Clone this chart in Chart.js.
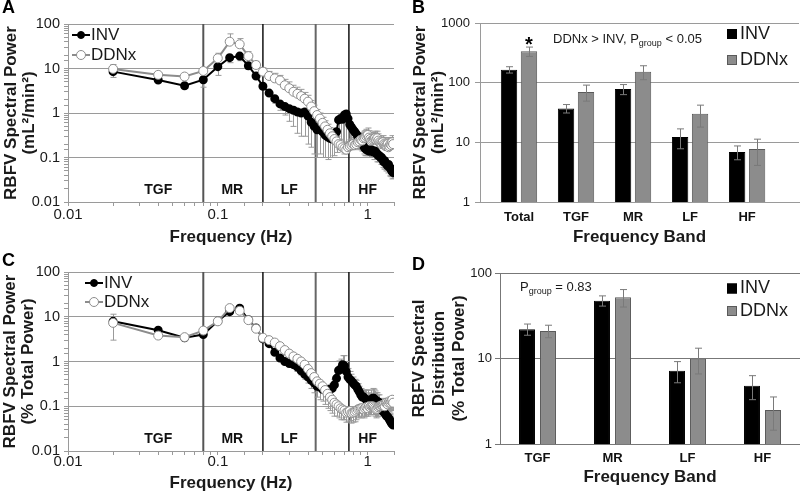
<!DOCTYPE html>
<html>
<head>
<meta charset="utf-8">
<title>RBFV spectral power</title>
<script src="https://cdn.jsdelivr.net/npm/chart.js@4.4.1/dist/chart.umd.min.js"></script>
<style>
  html, body { margin: 0; padding: 0; background: #fff; }
  #wrap { position: relative; width: 800px; height: 492px; overflow: hidden; }
  canvas { position: absolute; }
</style>
</head>
<body>
<div id="wrap">
  <canvas id="chartA" width="400" height="246" style="left:0;top:0"></canvas>
  <canvas id="chartB" width="400" height="246" style="left:400px;top:0"></canvas>
  <canvas id="chartC" width="400" height="246" style="left:0;top:246px"></canvas>
  <canvas id="chartD" width="400" height="246" style="left:400px;top:246px"></canvas>
</div>
<script>
// frequencias (Hz) de los espectros A y C
const freqs = [
  0.02, 0.04, 0.06, 0.08, 0.10, 0.12, 0.14, 0.16, 0.18, 0.20,
  0.22, 0.24, 0.26, 0.28, 0.30, 0.32, 0.34, 0.36, 0.38, 0.40,
  0.42, 0.44, 0.46, 0.48, 0.50, 0.52, 0.54, 0.56, 0.58, 0.60,
  0.62, 0.64, 0.66, 0.68, 0.70, 0.72, 0.74, 0.76, 0.78, 0.80,
  0.82, 0.84, 0.86, 0.88, 0.90, 0.92, 0.94, 0.96, 0.98, 1.00,
  1.02, 1.04, 1.06, 1.08, 1.10, 1.12, 1.14, 1.16, 1.18, 1.20,
  1.22, 1.24, 1.26, 1.28, 1.30, 1.32, 1.34, 1.36, 1.38, 1.40,
  1.42, 1.44, 1.46, 1.48
];

// A: potencia (mL2/min2)
const invPowerA = [
  8.5, 5.5, 4.1, 5.6, 11, 17.5, 19, 11.5, 6.8, 4.0,
  2.8, 2.1, 1.6, 1.4, 1.25, 1.15, 1.05, 1.0, 1.05, 0.85,
  0.62, 0.5, 0.42, 0.48, 0.38, 0.32, 0.29, 0.27, 0.26, 0.28,
  0.38, 0.7, 0.75, 0.72, 0.9, 0.95, 0.75, 0.55, 0.48, 0.42,
  0.38, 0.34, 0.3, 0.27, 0.25, 0.22, 0.18, 0.16, 0.15, 0.15,
  0.14, 0.14, 0.15, 0.14, 0.13, 0.14, 0.13, 0.12, 0.11, 0.11,
  0.1, 0.1, 0.09, 0.08, 0.085, 0.075, 0.07, 0.065, 0.07, 0.06,
  0.058, 0.052, 0.048, 0.046
];
const invErrA = [
  2.2, 0.6, 0.5, 1.8, 4, 4, 4, 2, 1, 0.5,
  0.4, 0.45, 0.45, 0.5, 0.6, 0.65, 0.7, 0.7, 0.75, 0.65,
  0.45, 0.38, 0.32, 0.36, 0.28, 0.22, 0.2, 0.17, 0.16, 0.17,
  0.25, 0.55, 0.6, 0.55, 0.78, 0.8, 0.6, 0.4, 0.33, 0.27,
  0.22, 0.18, 0.14, 0.12, 0.1, 0.08, 0.06, 0.05, 0.04, 0.04,
  0.04, 0.04, 0.05, 0.04, 0.04, 0.05, 0.04, 0.04, 0.03, 0.03,
  0.03, 0.03, 0.03, 0.025, 0.03, 0.025, 0.02, 0.02, 0.02, 0.02,
  0.02, 0.015, 0.015, 0.012
];
const ddnxPowerA = [
  9.8, 7.2, 6.6, 8.8, 17, 40, 35, 19, 12, 8.5,
  6.8, 6.0, 5.4, 4.2, 3.6, 3.0, 2.7, 2.4, 2.1, 1.8,
  1.4, 1.1, 0.9, 0.75, 0.6, 0.5, 0.42, 0.35, 0.3, 0.26,
  0.23, 0.2, 0.19, 0.17, 0.16, 0.15, 0.17, 0.18, 0.19, 0.2,
  0.19, 0.2, 0.22, 0.23, 0.25, 0.24, 0.27, 0.28, 0.3, 0.32,
  0.28, 0.26, 0.24, 0.25, 0.26, 0.27, 0.25, 0.27, 0.24, 0.22,
  0.21, 0.2, 0.22, 0.2, 0.19, 0.18, 0.18, 0.2, 0.17, 0.18,
  0.2, 0.19, 0.22, 0.2
];
const ddnxErrA = [
  2.5, 0.6, 0.6, 1, 5, 20, 12, 5, 2.5, 1.8,
  1.8, 1.8, 1.6, 1.5, 1.4, 1.2, 1.1, 1.0, 0.8, 0.7,
  0.5, 0.4, 0.3, 0.25, 0.2, 0.17, 0.14, 0.12, 0.1, 0.08,
  0.07, 0.06, 0.06, 0.05, 0.05, 0.05, 0.06, 0.07, 0.07, 0.08,
  0.07, 0.08, 0.09, 0.1, 0.11, 0.1, 0.12, 0.12, 0.13, 0.14,
  0.12, 0.11, 0.1, 0.11, 0.11, 0.12, 0.1, 0.12, 0.1, 0.09,
  0.08, 0.08, 0.09, 0.08, 0.08, 0.07, 0.07, 0.08, 0.07, 0.07,
  0.08, 0.07, 0.09, 0.08
];

// C: % de la potencia total
const invPctC = [
  7.9, 5.0, 3.4, 4.0, 8.0, 13, 15.5, 8.6, 5.6, 3.2,
  2.5, 1.6, 1.2, 1.0, 0.9, 0.85, 0.75, 0.62, 0.52, 0.45,
  0.38, 0.33, 0.28, 0.27, 0.24, 0.23, 0.23, 0.24, 0.25, 0.3,
  0.42, 0.63, 0.68, 0.85, 0.8, 0.6, 0.45, 0.4, 0.37, 0.33,
  0.3, 0.28, 0.24, 0.21, 0.18, 0.16, 0.16, 0.15, 0.14, 0.13,
  0.12, 0.12, 0.14, 0.15, 0.15, 0.14, 0.13, 0.13, 0.12, 0.12,
  0.1, 0.09, 0.08, 0.075, 0.07, 0.065, 0.06, 0.058, 0.055, 0.05,
  0.046, 0.042, 0.04, 0.038
];
const invErrC = [
  3.5, 0.7, 0.5, 0.8, 1.2, 2, 2, 1, 0.6, 0.3,
  0.25, 0.2, 0.15, 0.15, 0.15, 0.15, 0.15, 0.12, 0.1, 0.1,
  0.08, 0.07, 0.06, 0.06, 0.05, 0.05, 0.05, 0.06, 0.07, 0.1,
  0.2, 0.4, 0.45, 0.5, 0.55, 0.4, 0.25, 0.2, 0.15, 0.12,
  0.1, 0.1, 0.08, 0.07, 0.07, 0.06, 0.07, 0.08, 0.09, 0.1,
  0.08, 0.07, 0.09, 0.1, 0.09, 0.08, 0.07, 0.07, 0.06, 0.06,
  0.05, 0.04, 0.04, 0.035, 0.03, 0.03, 0.025, 0.025, 0.02, 0.02,
  0.02, 0.018, 0.016, 0.015
];
const ddnxPctC = [
  7.3, 3.8, 3.5, 4.9, 7.9, 15.6, 13.6, 8.4, 5.4, 3.4,
  3.0, 2.65, 2.2, 1.8, 1.5, 1.3, 1.15, 1.0, 0.85, 0.68,
  0.55, 0.45, 0.36, 0.32, 0.28, 0.23, 0.19, 0.16, 0.14, 0.12,
  0.11, 0.1, 0.09, 0.085, 0.08, 0.072, 0.075, 0.078, 0.07, 0.072,
  0.075, 0.08, 0.085, 0.088, 0.09, 0.09, 0.085, 0.09, 0.095, 0.09,
  0.1, 0.095, 0.1, 0.1, 0.095, 0.09, 0.085, 0.088, 0.095, 0.1,
  0.1, 0.105, 0.105, 0.11, 0.1, 0.12, 0.12, 0.11, 0.12, 0.13,
  0.12, 0.13, 0.14, 0.12
];
const ddnxErrC = [
  4.3, 0.4, 0.4, 0.6, 1, 2, 2, 1, 0.5, 0.3,
  0.3, 0.3, 0.4, 0.4, 0.45, 0.5, 0.55, 0.5, 0.45, 0.35,
  0.3, 0.25, 0.2, 0.18, 0.15, 0.12, 0.1, 0.08, 0.07, 0.06,
  0.05, 0.045, 0.04, 0.035, 0.03, 0.028, 0.03, 0.03, 0.028, 0.028,
  0.03, 0.03, 0.03, 0.03, 0.035, 0.03, 0.03, 0.03, 0.035, 0.03,
  0.035, 0.03, 0.035, 0.035, 0.03, 0.03, 0.03, 0.03, 0.035, 0.035,
  0.035, 0.04, 0.035, 0.04, 0.035, 0.04, 0.04, 0.035, 0.04, 0.045,
  0.04, 0.045, 0.05, 0.04
];

// bandas de frecuencia
const bandEdges = [0.08, 0.2, 0.45, 0.75];
const bandNames = ["TGF", "MR", "LF", "HF"];
const bandLabelAt = [0.04, 0.125, 0.3, 1.0];
const bandLabelLevel = 0.018;

// B: potencia por banda
const bandsB = ["Total", "TGF", "MR", "LF", "HF"];
const invPowerB = [165, 37, 78, 12.3, 6.9];
const invErrB = [20, 6, 15, 4.5, 1.8];
const ddnxPowerB = [335, 70, 152, 30, 7.7];
const ddnxErrB = [60, 21, 40, 12, 3.6];
const sigB = ["*", "", "", "", ""];

// D: distribucion (% potencia total)
const bandsD = ["TGF", "MR", "LF", "HF"];
const invPctD = [22, 47.5, 7.2, 4.8];
const invErrD = [3.3, 6.5, 2, 1.5];
const ddnxPctD = [21, 52, 9.9, 2.5];
const ddnxErrD = [3.5, 12, 3.3, 1.05];

const FONT = '"Liberation Sans", Arial, sans-serif';
Chart.defaults.font.family = FONT;
Chart.defaults.color = "#1a1a1a";
Chart.defaults.animation = false;
Chart.defaults.events = [];
Chart.defaults.plugins.legend.display = false;
Chart.defaults.plugins.tooltip.enabled = false;

const GRID = "#9a9a9a";

function esDecada(v) {
    const l = Math.log10(v);
    return Math.abs(l - Math.round(l)) < 1e-6;
}
function etiquetaLog(v) {
    return esDecada(v) ? String(Number(v.toPrecision(3))) : "";
}
function puntos(vals) {
    return freqs.map((f, i) => ({ x: f, y: vals[i] }));
}

// Barras de error
function dibujarErrores(chart, o) {
    const ctx = chart.ctx, ys = chart.scales.y, a = chart.chartArea;
    ctx.save();
    ctx.beginPath();
    ctx.rect(a.left, a.top - 1, a.right - a.left, a.bottom - a.top + 1);
    ctx.clip();
    ctx.strokeStyle = o.color;
    ctx.lineWidth = 1;
    o.sets.forEach((set, di) => {
        const meta = chart.getDatasetMeta(di);
        const raw = chart.data.datasets[di].data;
        meta.data.forEach((el, i) => {
            const v = typeof raw[i] === "object" ? raw[i].y : raw[i];
            const e = set.err[i];
            if (!e) return;
            const x = Math.round(el.x) + 0.5;
            const top = ys.getPixelForValue(set.dir < 0 ? v : v + e);
            const bot = ys.getPixelForValue(set.dir > 0 ? v : Math.max(v - e, 1e-9));
            ctx.beginPath();
            ctx.moveTo(x, top);
            ctx.lineTo(x, bot);
            if (set.dir >= 0) { ctx.moveTo(x - o.cap, top); ctx.lineTo(x + o.cap, top); }
            if (set.dir <= 0) { ctx.moveTo(x - o.cap, bot); ctx.lineTo(x + o.cap, bot); }
            ctx.stroke();
        });
    });
    ctx.restore();
}

const errorBars = {
    id: "errorBars",
    beforeDatasetsDraw(chart, args, o) { if (o.under) dibujarErrores(chart, o); },
    afterDatasetsDraw(chart, args, o) { if (!o.under) dibujarErrores(chart, o); }
};

// Leyenda dentro del grafico
const insideLegend = {
    id: "insideLegend",
    afterDraw(chart, args, o) {
        const ctx = chart.ctx;
        ctx.save();
        chart.data.datasets.forEach((ds, i) => {
            const y = o.y[i];
            if (o.kind === "line") {
                ctx.strokeStyle = ds.borderColor;
                ctx.lineWidth = ds.borderWidth;
                ctx.beginPath();
                ctx.moveTo(o.x, y);
                ctx.lineTo(o.x + o.w, y);
                ctx.stroke();
                ctx.beginPath();
                ctx.arc(o.x + o.w / 2, y, ds.pointRadius, 0, Math.PI * 2);
                ctx.fillStyle = ds.pointBackgroundColor;
                ctx.fill();
                ctx.lineWidth = 1;
                ctx.strokeStyle = ds.pointBorderColor;
                ctx.stroke();
            } else {
                ctx.fillStyle = ds.backgroundColor;
                ctx.fillRect(o.x, y - o.w / 2, o.w, o.w);
                ctx.strokeStyle = ds.borderColor;
                ctx.lineWidth = 1;
                ctx.strokeRect(o.x + 0.5, y - o.w / 2 + 0.5, o.w - 1, o.w - 1);
            }
            ctx.fillStyle = "#1a1a1a";
            ctx.font = o.size + "px " + FONT;
            ctx.textAlign = "left";
            ctx.textBaseline = "middle";
            ctx.fillText(ds.label, o.x + o.w + o.gap, y);
        });
        ctx.restore();
    }
};

// Lineas y nombres de las bandas
const bandLines = {
    id: "bandLines",
    beforeDatasetsDraw(chart, args, o) {
        const ctx = chart.ctx, xs = chart.scales.x, ys = chart.scales.y, a = chart.chartArea;
        ctx.save();
        bandEdges.forEach((f, i) => {
            const x = xs.getPixelForValue(f);
            ctx.strokeStyle = o.colors[i];
            ctx.lineWidth = o.widths[i];
            ctx.beginPath();
            ctx.moveTo(x, a.top);
            ctx.lineTo(x, a.bottom);
            ctx.stroke();
        });
        ctx.fillStyle = "#111";
        ctx.font = "bold 14px " + FONT;
        ctx.textAlign = "center";
        ctx.textBaseline = "middle";
        bandNames.forEach((n, i) => {
            ctx.fillText(n, xs.getPixelForValue(bandLabelAt[i]), ys.getPixelForValue(bandLabelLevel));
        });
        ctx.restore();
    }
};

// Letra del panel, texto de estadistica y asterisco
const notes = {
    id: "notes",
    afterDraw(chart, args, o) {
        const ctx = chart.ctx;
        ctx.save();
        ctx.textAlign = "left";
        ctx.textBaseline = "alphabetic";
        ctx.fillStyle = "#000";
        ctx.font = "bold 18px " + FONT;
        ctx.fillText(o.letter, o.letterX, o.letterY);
        if (o.text) {
            let x = o.text.x;
            o.text.parts.forEach(p => {
                ctx.font = (p.sub ? 9 : 13) + "px " + FONT;
                ctx.fillStyle = "#1a1a1a";
                ctx.fillText(p.t, x, o.text.y + (p.sub ? 3 : 0));
                x += ctx.measureText(p.t).width;
            });
        }
        if (o.star) {
            const meta = chart.getDatasetMeta(o.star.dataset);
            const raw = chart.data.datasets[o.star.dataset].data;
            ctx.font = "bold 20px " + FONT;
            ctx.textAlign = "center";
            ctx.fillStyle = "#000";
            o.star.marks.forEach((m, i) => {
                if (!m) return;
                const v = typeof raw[i] === "object" ? raw[i].y : raw[i];
                const top = chart.scales.y.getPixelForValue(v + o.star.err[i]);
                ctx.fillText(m, meta.data[i].x, top + 4);
            });
        }
        ctx.restore();
    }
};

function graficoEspectro(id, inv, invErr, ddnx, ddnxErr, o) {
    return new Chart(document.getElementById(id), {
        type: "line",
        data: {
            datasets: [
                { label: "INV", data: puntos(inv), borderColor: "#000", borderWidth: 2, pointRadius: 3.5,
                  pointBackgroundColor: "#000", pointBorderColor: "#000", tension: 0, order: 1 },
                { label: "DDNx", data: puntos(ddnx), borderColor: "#8c8c8c", borderWidth: 2, pointRadius: 4.5,
                  pointBackgroundColor: "#fff", pointBorderColor: "#8c8c8c", pointBorderWidth: 1, tension: 0, order: 0 }
            ]
        },
        options: {
            responsive: false,
            layout: { padding: { top: o.top, right: o.right, left: 0, bottom: 0 } },
            scales: {
                x: {
                    type: "logarithmic", min: 0.01, max: 1.5,
                    afterFit: s => { s.height = o.xHeight; },
                    grid: { drawOnChartArea: false, color: GRID, tickLength: 4 },
                    border: { color: GRID },
                    ticks: { autoSkip: false, maxRotation: 0, callback: etiquetaLog, font: { size: 15 }, padding: o.xPad },
                    title: { display: true, text: "Frequency (Hz)", font: { size: 17, weight: "bold", lineHeight: 1 }, padding: { top: 0, bottom: 0 } }
                },
                y: {
                    type: "logarithmic", min: 0.01, max: 100,
                    afterFit: s => { s.width = 68; },
                    grid: {
                        color: c => (c.tick && esDecada(c.tick.value)) ? GRID : "rgba(0,0,0,0)",
                        tickColor: GRID, tickLength: 4
                    },
                    border: { color: GRID },
                    ticks: { autoSkip: false, callback: etiquetaLog, font: { size: 14.5 }, padding: 4 },
                    title: { display: true, text: o.yTitle, font: { size: 17, weight: "bold", lineHeight: 1.09 }, padding: { top: o.yTitlePad, bottom: 0 } }
                }
            },
            plugins: {
                errorBars: { under: true, color: "#9a9a9a", cap: 3,
                             sets: [{ err: invErr, dir: o.invDir }, { err: ddnxErr, dir: o.ddnxDir }] },
                insideLegend: { kind: "line", x: o.legX, y: o.legY, w: 18, gap: 1, size: 17 },
                bandLines: { colors: ["#555", "#111", "#666", "#111"], widths: [2, 1.5, 2, 1.5] },
                notes: { letter: o.letter, letterX: 2, letterY: o.letterY }
            }
        },
        plugins: [bandLines, errorBars, insideLegend, notes]
    });
}

graficoEspectro("chartA", invPowerA, invErrA, ddnxPowerA, ddnxErrA, {
    top: 24, right: 3, xHeight: 44, xPad: 0, invDir: -1, ddnxDir: 1,
    yTitle: ["RBFV Spectral Power", "(mL\u00b2/min\u00b2)"], yTitlePad: 2,
    legX: 72, legY: [35, 55], letter: "A", letterY: 13
});

graficoEspectro("chartC", invPctC, invErrC, ddnxPctC, ddnxErrC, {
    top: 26, right: 5, xHeight: 41, xPad: -2, invDir: 1, ddnxDir: -1,
    yTitle: ["RBFV Spectral Power", "(% Total Power)"], yTitlePad: 1,
    legX: 85, legY: [37, 56], letter: "C", letterY: 20
});

// B: barras con eje lineal para centrar las bandas
new Chart(document.getElementById("chartB"), {
    type: "bar",
    data: {
        datasets: [
            { label: "INV", data: bandsB.map((b, i) => ({ x: i, y: invPowerB[i] })),
              backgroundColor: "#000", borderColor: "#000", borderWidth: 1 },
            { label: "DDNx", data: bandsB.map((b, i) => ({ x: i, y: ddnxPowerB[i] })),
              backgroundColor: "#8c8c8c", borderColor: "#5a5a5a", borderWidth: 1 }
        ]
    },
    options: {
        responsive: false,
        datasets: { bar: { categoryPercentage: 0.7, barPercentage: 0.82 } },
        layout: { padding: { top: 23, right: 1, left: 0, bottom: 0 } },
        scales: {
            x: {
                type: "linear", min: -0.684, max: 4.91, offset: false,
                afterBuildTicks: s => { s.ticks = bandsB.map((b, i) => ({ value: i })); },
                afterFit: s => { s.height = 44; },
                grid: { display: false, drawTicks: false },
                border: { color: GRID },
                ticks: { autoSkip: false, maxRotation: 0, callback: v => bandsB[v] ?? "",
                         font: { size: 13, weight: "bold" }, padding: 7.5, color: "#111" },
                title: { display: true, text: "Frequency Band", font: { size: 17, weight: "bold", lineHeight: 1 }, padding: { top: 0, bottom: 0 } }
            },
            y: {
                type: "logarithmic", min: 1, max: 1000,
                afterBuildTicks: s => { s.ticks = s.ticks.filter(t => esDecada(t.value)); },
                afterFit: s => { s.width = 80; },
                grid: { color: GRID, tickLength: 5 },
                border: { color: GRID },
                ticks: { callback: etiquetaLog, font: { size: 13 }, padding: 5 },
                title: { display: true, text: ["RBFV Spectral Power", "(mL\u00b2/min\u00b2)"],
                         font: { size: 17, weight: "bold", lineHeight: 1.09 }, padding: { top: 11, bottom: 0 } }
            }
        },
        plugins: {
            errorBars: { under: false, color: "#7a7a7a", cap: 3.5,
                         sets: [{ err: invErrB, dir: 0 }, { err: ddnxErrB, dir: 0 }] },
            insideLegend: { kind: "box", x: 327, y: [34, 60], w: 10, gap: 3, size: 18 },
            notes: {
                letter: "B", letterX: 12, letterY: 13,
                text: { x: 153, y: 43, parts: [{ t: "DDNx > INV, P" }, { t: "group", sub: true }, { t: " < 0.05" }] },
                star: { dataset: 1, marks: sigB, err: ddnxErrB }
            }
        }
    },
    plugins: [errorBars, insideLegend, notes]
});

// D: distribucion por banda
new Chart(document.getElementById("chartD"), {
    type: "bar",
    data: {
        labels: bandsD,
        datasets: [
            { label: "INV", data: invPctD, backgroundColor: "#000", borderColor: "#000", borderWidth: 1 },
            { label: "DDNx", data: ddnxPctD, backgroundColor: "#8c8c8c", borderColor: "#5a5a5a", borderWidth: 1 }
        ]
    },
    options: {
        responsive: false,
        datasets: { bar: { categoryPercentage: 0.56, barPercentage: 0.76 } },
        layout: { padding: { top: 27, right: 0, left: 0, bottom: 0 } },
        scales: {
            x: {
                afterFit: s => { s.height = 48; },
                grid: { display: false, drawTicks: false },
                border: { color: "#777" },
                ticks: { maxRotation: 0, font: { size: 13, weight: "bold" }, padding: 7, color: "#111" },
                title: { display: true, text: "Frequency Band", font: { size: 17, weight: "bold", lineHeight: 1 }, padding: { top: 0, bottom: 6.5 } }
            },
            y: {
                type: "logarithmic", min: 1, max: 100,
                afterBuildTicks: s => { s.ticks = s.ticks.filter(t => esDecada(t.value)); },
                afterFit: s => { s.width = 100; },
                grid: { color: "#777", tickLength: 5 },
                border: { color: "#777" },
                ticks: { callback: etiquetaLog, font: { size: 13 }, padding: 3 },
                title: { display: true, text: ["RBFV Spectral", "Distribution", "(% Total Power)"],
                         font: { size: 17, weight: "bold", lineHeight: 1.18 }, padding: { top: 9, bottom: 0 } }
            }
        },
        plugins: {
            errorBars: { under: false, color: "#7a7a7a", cap: 3.5,
                         sets: [{ err: invErrD, dir: 0 }, { err: ddnxErrD, dir: 0 }] },
            insideLegend: { kind: "box", x: 327, y: [42.5, 65], w: 10, gap: 3, size: 18 },
            notes: {
                letter: "D", letterX: 12, letterY: 24,
                text: { x: 120, y: 45, parts: [{ t: "P" }, { t: "group", sub: true }, { t: " = 0.83" }] }
            }
        }
    },
    plugins: [errorBars, insideLegend, notes]
});
</script>
</body>
</html>
